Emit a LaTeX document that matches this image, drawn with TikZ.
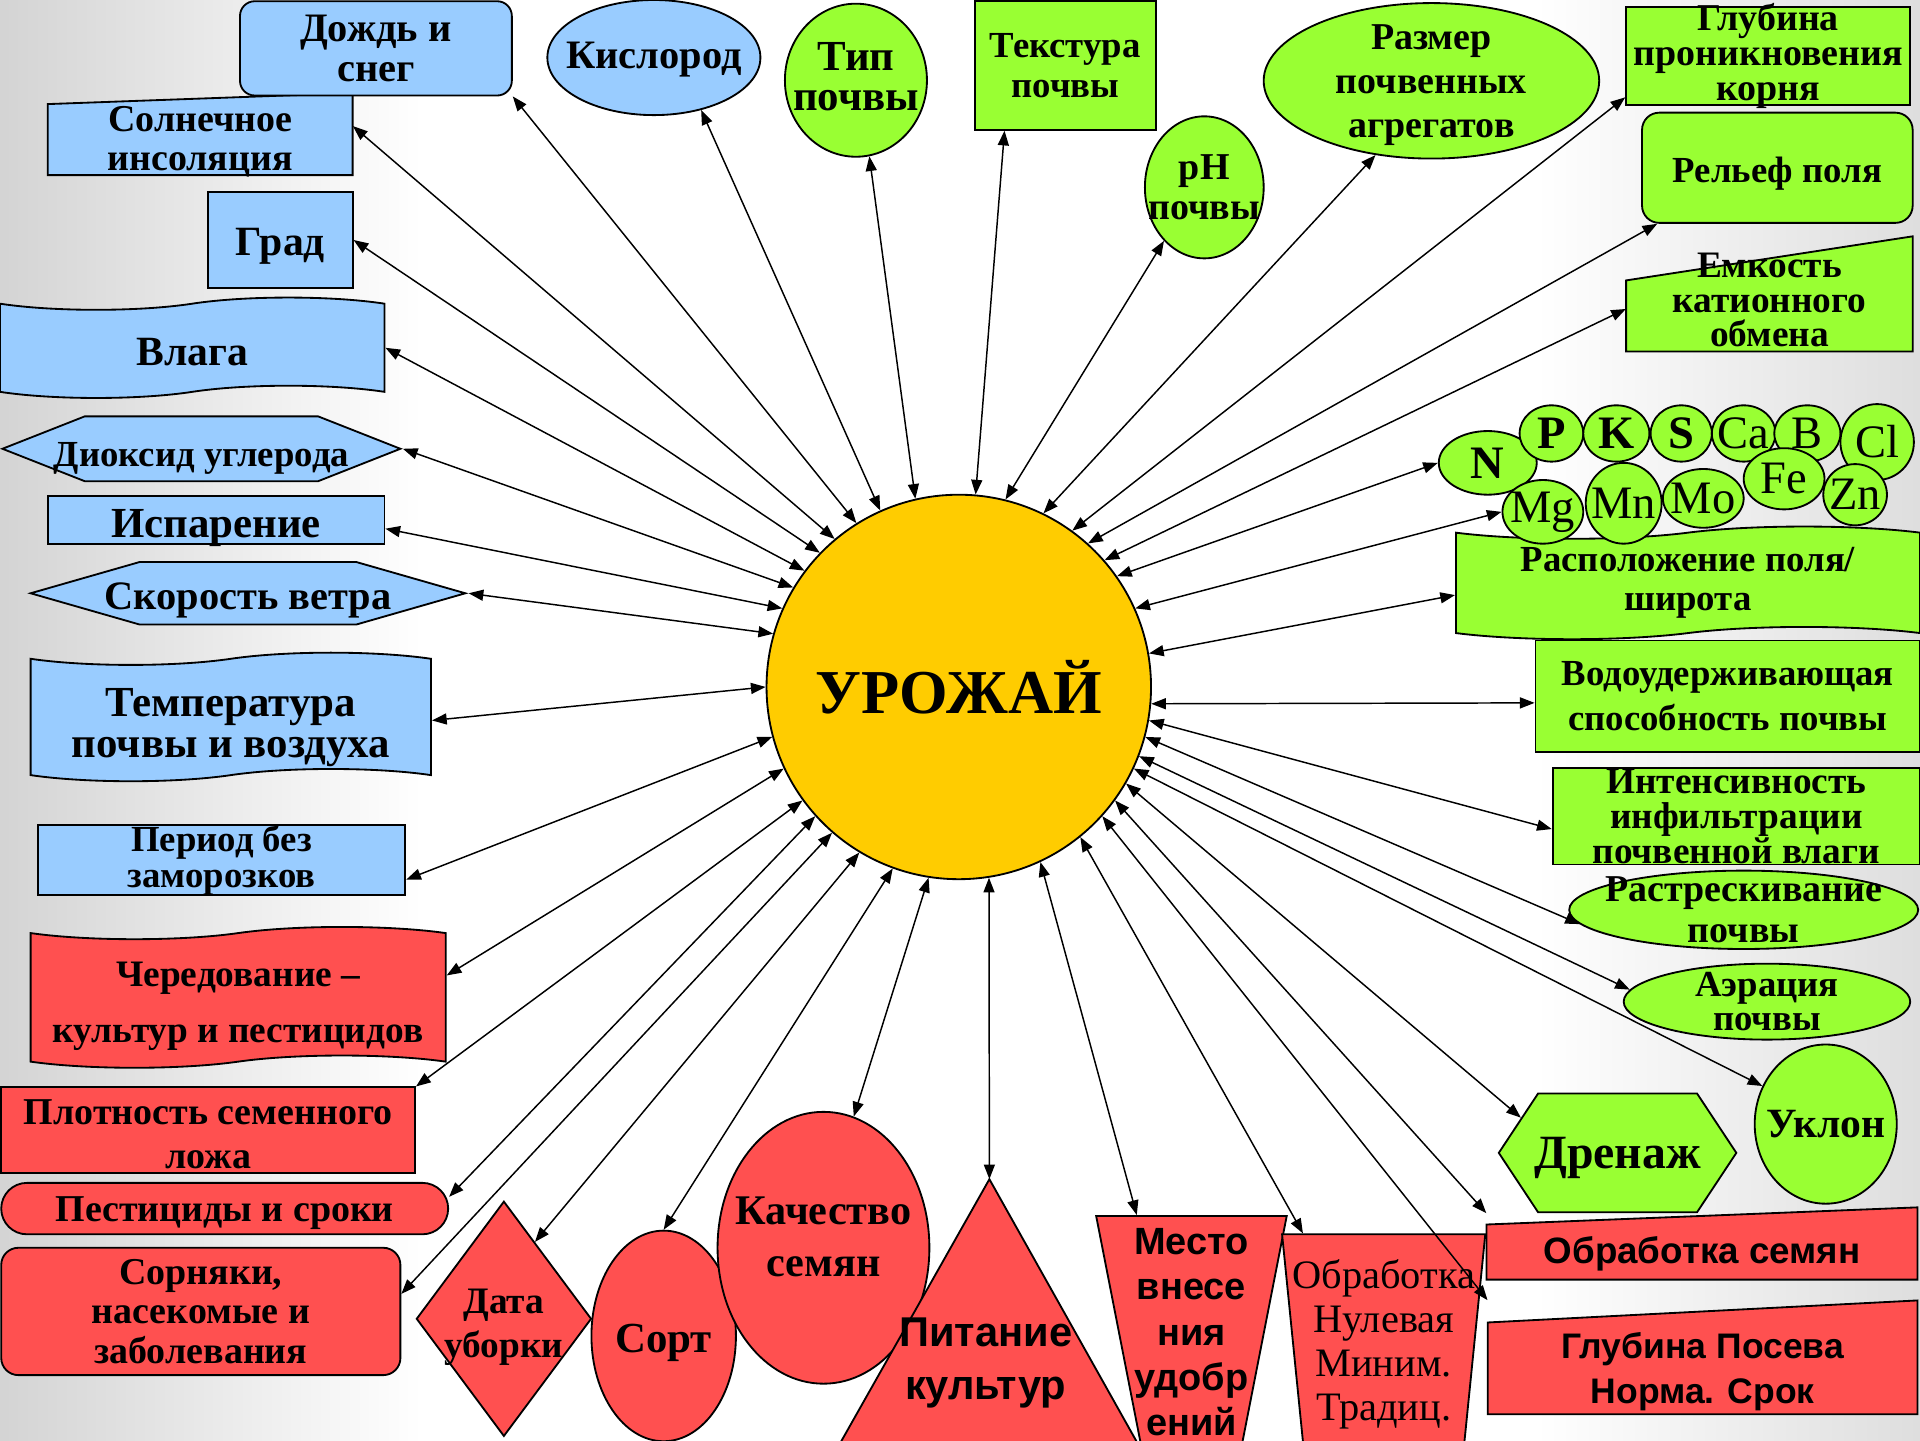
\documentclass[tikz,border=0pt]{standalone}
\usepackage{fontspec}
\setmainfont{Liberation Serif}
\newfontfamily\arialfam{Liberation Sans}
\usetikzlibrary{shapes.geometric,shapes.symbols,arrows.meta}
\definecolor{climblue}{HTML}{99CCFF}
\definecolor{soilgreen}{HTML}{99FF33}
\definecolor{agrored}{HTML}{FF5050}
\definecolor{cropgold}{HTML}{FFCC00}
\newcommand\fsz[2]{\fontsize{#1}{#2}\selectfont}
\pgfdeclarehorizontalshading{bgfade}{100bp}{color(0bp)=(black!17); color(25bp)=(black!17); color(36bp)=(white); color(65bp)=(white); color(75bp)=(black!13); color(100bp)=(black!13)}
\tikzset{
  shp/.style={draw, line width=1.5pt},
  clim/.style={shp, fill=climblue},
  soil/.style={shp, fill=soilgreen},
  agro/.style={shp, fill=agrored},
  wave/.style={tape, tape bend top=in and out, tape bend bottom=in and out, tape bend height=10pt},
  hexa/.style={signal, signal to=west and east},
  elem/.style={soil, ellipse},
  txtbox/.style={text height=#1, text depth=0pt},
  link/.style={<->, >={Triangle[length=12pt,width=9pt]}, line width=1.2pt}
}

\begin{document}
\begin{tikzpicture}[x=1pt, y=-1pt, every node/.style={inner sep=-30pt, align=center}]
	\useasboundingbox (0,0) rectangle (1568,1176);
	\clip (0,0) rectangle (1568,1176);
	\shade[shading=bgfade] (0,0) rectangle (1568,1176);

	% climate
	\filldraw[clim] (39,85) -- (288,76) -- (288,143) -- (39,143) -- cycle;
	\node[minimum width=249pt, minimum height=67pt, txtbox=59pt, font=\fsz{31}{32}\bfseries] (sun) at (163.5,109.5) {Солнечное\\инсоляция};
	\node[clim, rounded corners=12pt, minimum width=222pt, minimum height=77pt, font=\fsz{33}{33}\bfseries] (rain) at (307,39.5) {Дождь и\\снег};
	\node[clim, ellipse, minimum width=174pt, minimum height=94pt, text depth=3pt, font=\fsz{33}{33}\bfseries] (oxygen) at (534,47) {Кислород};
	\node[clim, minimum width=118pt, minimum height=78pt, txtbox=24.5pt, font=\fsz{34}{34}\bfseries] (hail) at (229,196) {Град};
	\node[clim, wave, minimum width=314pt, minimum height=82pt, txtbox=28.4pt, font=\fsz{34}{34}\bfseries] (moist) at (157,284) {Влага};
	\node[clim, hexa, signal pointer angle=43, minimum width=325pt, minimum height=53pt, txtbox=28.4pt, font=\fsz{30}{30}\bfseries] (co2) at (164.5,366.5) {Диоксид углерода};
	\node[clim, minimum width=275pt, minimum height=39pt, txtbox=29pt, font=\fsz{35}{35}\bfseries] (evap) at (176.5,424.5) {Испарение};
	\node[clim, hexa, signal pointer angle=32, minimum width=355pt, minimum height=51pt, txtbox=26.5pt, font=\fsz{33}{33}\bfseries] (wind) at (202.5,484.5) {Скорость ветра};
	\node[clim, wave, minimum width=327pt, minimum height=105pt, txtbox=66pt, font=\fsz{35}{33}\bfseries] (temp) at (188.5,585.5) {Температура\\почвы и воздуха};
	\node[clim, minimum width=300pt, minimum height=57pt, font=\fsz{30}{29}\bfseries] (frost) at (181,702.5) {Период без\\заморозков};

	% soil
	\node[soil, ellipse, minimum width=116pt, minimum height=125pt, text depth=6pt, font=\fsz{35}{33}\bfseries] (stype) at (699,65.5) {Тип\\почвы};
	\node[soil, minimum width=148pt, minimum height=105pt, font=\fsz{30}{33}\bfseries] (texture) at (870,53.5) {Текстура\\почвы};
	\node[soil, ellipse, minimum width=97pt, minimum height=116pt, font=\fsz{31}{33}\bfseries] (ph) at (983.5,153) {pH\\почвы};
	\node[soil, ellipse, minimum width=274pt, minimum height=127pt, text depth=-1pt, font=\fsz{31}{36}\bfseries] (aggr) at (1169,66) {Размер\\почвенных\\агрегатов};
	\node[soil, minimum width=232pt, minimum height=80pt, font=\fsz{31}{28.5}\bfseries] (root) at (1444,46) {Глубина\\проникновения\\корня};
	\node[soil, rounded corners=14pt, minimum width=221pt, minimum height=90pt, txtbox=24.4pt, font=\fsz{30}{30}\bfseries] (relief) at (1451.5,137) {Рельеф поля};
	\filldraw[soil] (1328,229) -- (1562,193) -- (1562,287) -- (1328,287) -- cycle;
	\node[minimum width=234pt, minimum height=94pt, txtbox=86pt, font=\fsz{30.5}{28}\bfseries] (cec) at (1445,240) {Емкость\\катионного\\обмена};
	\node[soil, wave, minimum width=379pt, minimum height=92pt, font=\fsz{30}{32}\bfseries] (latit) at (1378.5,476) {Расположение поля/\\широта};
	\node[elem, minimum width=80pt, minimum height=52pt, font=\fsz{38}{38}\bfseries] (nN) at (1215,378) {N};
	\node[elem, minimum width=52pt, minimum height=46pt, font=\fsz{38}{38}\bfseries] (nP) at (1267,354) {P};
	\node[elem, minimum width=54pt, minimum height=46pt, font=\fsz{38}{38}\bfseries] (nK) at (1320,354) {K};
	\node[elem, minimum width=50pt, minimum height=46pt, font=\fsz{38}{38}\bfseries] (nS) at (1373,354) {S};
	\node[elem, minimum width=52pt, minimum height=46pt, font=\fsz{38}{38}] (nCa) at (1424,354) {Ca};
	\node[elem, minimum width=54pt, minimum height=46pt, font=\fsz{38}{38}] (nB) at (1476,354) {B};
	\node[elem, minimum width=60pt, minimum height=62pt, font=\fsz{38}{38}] (nCl) at (1533,361) {Cl};
	\node[elem, minimum width=66pt, minimum height=52pt, font=\fsz{38}{38}] (nMg) at (1260,418) {Mg};
	\node[elem, minimum width=62pt, minimum height=66pt, font=\fsz{38}{38}] (nMn) at (1326,411) {Mn};
	\node[elem, minimum width=66pt, minimum height=48pt, font=\fsz{38}{38}] (nMo) at (1391,407) {Mo};
	\node[elem, minimum width=66pt, minimum height=50pt, font=\fsz{38}{38}] (nFe) at (1457,391) {Fe};
	\node[elem, minimum width=52pt, minimum height=50pt, font=\fsz{38}{38}] (nZn) at (1515,404) {Zn};
	\node[soil, minimum width=314pt, minimum height=91pt, font=\fsz{30}{36}\bfseries] (waterhold) at (1411,568.5) {Водоудерживающая\\способность почвы};
	\node[soil, minimum width=300pt, minimum height=79pt, font=\fsz{30.5}{28.5}\bfseries] (infilt) at (1418,666.5) {Интенсивность\\инфильтрации\\почвенной влаги};
	\node[soil, ellipse, minimum width=285pt, minimum height=64pt, font=\fsz{31}{33}\bfseries] (crack) at (1424,743) {Растрескивание\\почвы};
	\node[soil, ellipse, minimum width=234pt, minimum height=62pt, font=\fsz{30}{28}\bfseries] (aer) at (1443,818) {Аэрация\\почвы};
	\node[soil, ellipse, minimum width=116pt, minimum height=130pt, font=\fsz{34}{34}\bfseries] (slope) at (1491,918) {Уклон};
	\node[soil, hexa, signal pointer angle=113, minimum width=194pt, minimum height=97pt, text depth=0pt, font=\fsz{39}{39}\bfseries] (drain) at (1321,941.5) {Дренаж};

	% agronomy
	\node[agro, wave, minimum width=339pt, minimum height=115pt, txtbox=73pt, font=\fsz{30.5}{45}\bfseries] (rotat) at (194.5,814.5) {Чередование –\\культур и пестицидов};
	\node[agro, minimum width=338pt, minimum height=70pt, txtbox=62.5pt, font=\fsz{31}{36}\bfseries] (seedbed) at (170,923) {Плотность семенного\\ложа};
	\node[agro, rounded corners=21pt, minimum width=365pt, minimum height=42pt, text depth=0pt, font=\fsz{31}{31}\bfseries] (pest) at (183.5,987) {Пестициды и сроки};
	\node[agro, rounded corners=14pt, minimum width=326pt, minimum height=104pt, font=\fsz{31}{32}\bfseries] (weeds) at (164,1071) {Сорняки,\\насекомые и\\заболевания};
	\node[agro, diamond, minimum width=143pt, minimum height=192pt, txtbox=64pt, font=\fsz{30.5}{36}\bfseries] (harvest) at (411.5,1077) {Дата\\уборки};
	\node[agro, ellipse, minimum width=118pt, minimum height=172pt, txtbox=27.8pt, font=\fsz{35}{35}\bfseries] (variety) at (542,1091) {Сорт};
	\node[agro, ellipse, minimum width=173pt, minimum height=222pt, text depth=18pt, font=\fsz{34.5}{42}\bfseries] (seedq) at (672.5,1019) {Качество\\семян};
	\coordinate (apex) at (808,963);
	\filldraw[agro] (apex) -- (941,1200) -- (674,1200) -- cycle;
	\node[font=\fsz{34}{43}\arialfam\bfseries] (nutr) at (805,1113) {Питание\\культур};
	\node[agro, trapezium, shape border rotate=180, trapezium angle=82, trapezium stretches=true, minimum width=156pt, minimum height=190pt, font=\fsz{31}{37}\arialfam\bfseries] (place) at (973,1088) {Место\\внесе\\ния\\удобр\\ений};
	\node[agro, trapezium, shape border rotate=180, trapezium angle=81, trapezium stretches=true, minimum width=166pt, minimum height=180pt, font=\fsz{33}{36}] (tillage) at (1130,1098) {Обработка\\Нулевая\\Миним.\\Традиц.};
	\filldraw[agro] (1214,1000) -- (1566,986) -- (1566,1045) -- (1214,1045) -- cycle;
	\node[minimum width=352pt, minimum height=59pt, txtbox=32pt, font=\fsz{30}{30}\arialfam\bfseries] (seedtreat) at (1390,1015.5) {Обработка семян};
	\filldraw[agro] (1215,1080) -- (1566,1062) -- (1566,1155) -- (1215,1155) -- cycle;
	\node[minimum width=351pt, minimum height=93pt, txtbox=76pt, font=\fsz{29}{37}\arialfam\bfseries] (sowing) at (1390.5,1108.5) {Глубина Посева\\Норма. Срок};

	% yield
	\node[shp, circle, fill=cropgold, minimum size=314pt, font=\fsz{51}{51}\bfseries] (crop) at (783,561) {УРОЖАЙ};

	\draw[link] (crop.85) -- (texture.227);
	\draw[link] (crop.103) -- (stype.280);
	\draw[link] (crop.114) -- (oxygen.312);
	\draw[link] (crop.122) -- (rain.south east);
	\draw[link] (crop.130) -- (sun.3);
	\draw[link] (crop.136) -- (hail.east);
	\draw[link] (crop.143) -- (moist.east);
	\draw[link] (crop.149) -- (co2.east);
	\draw[link] (crop.156) -- (evap.357);
	\draw[link] (crop.164) -- (wind.east);
	\draw[link] (crop.180) -- (temp.359);
	\draw[link] (crop.195) -- (frost.354);
	\draw[link] (crop.205) -- (rotat.6);
	\draw[link] (crop.216) -- (seedbed.north east);
	\draw[link] (crop.222) -- (pest.3);
	\draw[link] (crop.229) -- (weeds.5);
	\draw[link] (crop.239) -- (harvest.68);
	\draw[link] (crop.250) -- (variety.north);
	\draw[link] (crop.261) -- (seedq.77);
	\draw[link] (crop.279) -- (apex);
	\draw[link] (crop.295) -- (place.115);
	\draw[link] (crop.309) -- (tillage.126);
	\draw[link] (crop.318) -- (sowing.north west);
	\draw[link] (crop.324) -- (seedtreat.172);
	\draw[link] (crop.330) -- (drain.160);
	\draw[link] (crop.335) -- (slope.149);
	\draw[link] (crop.339) -- (aer.175);
	\draw[link] (crop.345) -- (crack.185);
	\draw[link] (crop.350) -- (infilt.184);
	\draw[link] (crop.355) -- (waterhold.182);
	\draw[link] (crop.10) -- (latit.183);
	\draw[link] (crop.24) -- (nMg.west);
	\draw[link] (crop.35) -- (nN.west);
	\draw[link] (crop.41) -- (cec.186);
	\draw[link] (crop.48) -- (relief.205);
	\draw[link] (crop.54) -- (root.196);
	\draw[link] (crop.64) -- (aggr.233);
	\draw[link] (crop.76) -- (ph.233);
\end{tikzpicture}
\end{document}
